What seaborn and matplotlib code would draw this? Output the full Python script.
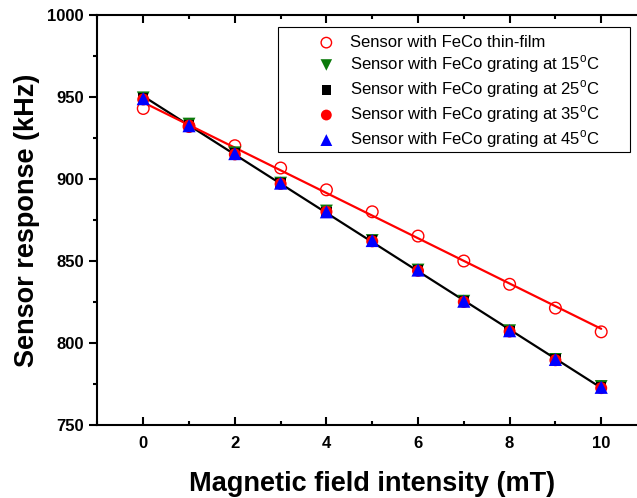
import numpy as np
import pandas as pd
import seaborn as sns
import matplotlib.pyplot as plt
from matplotlib.patches import Rectangle
from matplotlib.ticker import MultipleLocator

# field intensity (mT)
field = [0, 1, 2, 3, 4, 5, 6, 7, 8, 9, 10]

# sensor response (kHz)
thin_film = [943, 932, 920.3, 906.7, 893.4, 880, 865.2, 850, 835.8, 821.3, 806.8]
grating_15 = [949.5, 933.5, 916, 897.5, 880.5, 862.5, 844.5, 825.5, 807.5, 790, 773.5]
grating_25 = [949, 933, 915.5, 897.5, 880, 862.5, 844.5, 825.5, 807.5, 790, 773]
grating_35 = [948.5, 932.5, 915, 897, 880, 862, 844, 825, 807, 789.5, 772.5]
grating_45 = [949, 932.5, 915.5, 897.5, 880, 862.5, 844.5, 825.5, 807.5, 790, 773]

labels = ['Sensor with FeCo thin-film',
          'Sensor with FeCo grating at 15$^{\\mathrm{o}}$C',
          'Sensor with FeCo grating at 25$^{\\mathrm{o}}$C',
          'Sensor with FeCo grating at 35$^{\\mathrm{o}}$C',
          'Sensor with FeCo grating at 45$^{\\mathrm{o}}$C']

sns.set_style('white')
plt.rcParams['font.family'] = ['Liberation Sans', 'DejaVu Sans']
plt.rcParams['mathtext.fontset'] = 'custom'
plt.rcParams['mathtext.rm'] = 'Liberation Sans'
plt.rcParams['text.color'] = 'black'
plt.rcParams['axes.labelcolor'] = 'black'
plt.rcParams['xtick.color'] = 'black'
plt.rcParams['ytick.color'] = 'black'

W, H = 637, 498
fig = plt.figure(figsize=(W / 100, H / 100), dpi=100)
# axes runs slightly past the right edge of the picture, like the original crop
ax = fig.add_axes([97 / W, (H - 425) / H, 550 / W, 410 / H])

x = np.array(field, dtype=float)

# linear fits
p_thin = np.polyfit(x, thin_film, 1)
grat_all = np.mean([grating_15, grating_25, grating_35, grating_45], axis=0)
p_grat = np.polyfit(x, grat_all, 1)

sns.lineplot(x=x, y=np.polyval(p_grat, x), color='black', lw=1.6, ax=ax, zorder=2)
sns.lineplot(x=x, y=np.polyval(p_thin, x), color='red', lw=1.6, ax=ax, zorder=2)

sns.scatterplot(x=x, y=thin_film, marker='o', s=70, facecolors='none',
                edgecolor='red', linewidth=1.0, label=labels[0], ax=ax, zorder=3)
sns.scatterplot(x=x, y=grating_15, marker='v', s=85, color='#0a7a0a',
                edgecolor='none', label=labels[1], ax=ax, zorder=4)
sns.scatterplot(x=x, y=grating_25, marker='s', s=55, color='black',
                edgecolor='none', label=labels[2], ax=ax, zorder=5)
sns.scatterplot(x=x, y=grating_35, marker='o', s=75, color='red',
                edgecolor='none', label=labels[3], ax=ax, zorder=6)
sns.scatterplot(x=x, y=grating_45, marker='^', s=90, color='blue',
                edgecolor='none', label=labels[4], ax=ax, zorder=7)

ax.set_xlim(-1.01, 11)
ax.set_ylim(750, 1000)
ax.xaxis.set_major_locator(MultipleLocator(2))
ax.xaxis.set_minor_locator(MultipleLocator(1))
ax.yaxis.set_major_locator(MultipleLocator(50))
ax.yaxis.set_minor_locator(MultipleLocator(25))

ax.tick_params(axis='x', which='both', direction='in', top=True, bottom=True,
               width=1.5, pad=8)
ax.tick_params(axis='x', which='major', length=6)
ax.tick_params(axis='x', which='minor', length=3)
ax.tick_params(axis='y', which='both', direction='out', left=True, right=False,
               width=1.5)
ax.tick_params(axis='y', which='major', length=6)
ax.tick_params(axis='y', which='minor', length=3)
for lab in ax.get_xticklabels() + ax.get_yticklabels():
    lab.set_fontweight('bold')
    lab.set_fontsize(12)

for side in ['left', 'bottom', 'top']:
    ax.spines[side].set_linewidth(1.5)
    ax.spines[side].set_color('black')
ax.spines['right'].set_visible(False)

ax.set_xlabel('Magnetic field intensity (mT)', fontsize=19.5, fontweight='bold', labelpad=14)
ax.set_ylabel('Sensor response (kHz)', fontsize=19.5, fontweight='bold', labelpad=5)

# legend without its own frame; the box is drawn separately (wide right margin)
leg = ax.legend(loc='upper left', bbox_to_anchor=(313 / W, (H - 35) / H),
                bbox_transform=fig.transFigure, fontsize=12, frameon=False,
                handletextpad=0.6, labelspacing=0.2, borderpad=0,
                borderaxespad=0, handlelength=1.6, markerscale=0.9)
fig.add_artist(Rectangle((278 / W, (H - 152) / H), (630 - 278) / W, 125 / H,
                         transform=fig.transFigure, fill=False,
                         edgecolor='black', linewidth=0.8, zorder=10))

fig.savefig('out.png', dpi=100)
